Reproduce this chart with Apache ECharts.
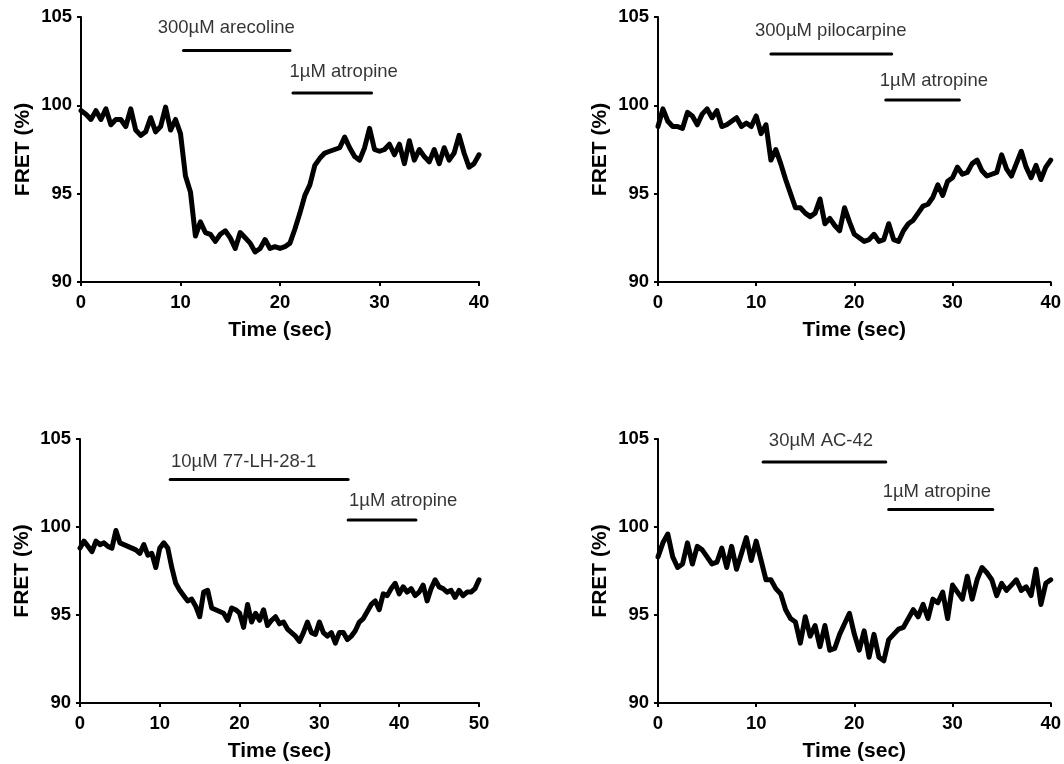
<!DOCTYPE html>
<html>
<head>
<meta charset="utf-8">
<title>FRET traces</title>
<script src="https://cdn.jsdelivr.net/npm/echarts@6/dist/echarts.min.js"></script>
<style>
	html, body { margin: 0; padding: 0; background: #fff; }
	#chart { width: 1064px; height: 764px; }
</style>
</head>
<body>
<div id="chart"></div>
<script>
	// sampling interval of the traces (sec)
	var sampleStep = 0.5

	// FRET (%) traces, one value every 0.5 s
	var fretArecoline = [
		99.7, 99.5, 99.2, 99.7, 99.2, 99.8, 98.9, 99.2, 99.2, 98.8,
		99.8, 98.6, 98.3, 98.5, 99.3, 98.5, 98.8, 99.9, 98.6, 99.2,
		98.4, 96.0, 95.1, 92.6, 93.4, 92.8, 92.7, 92.3, 92.7, 92.9,
		92.5, 91.9, 92.8, 92.5, 92.2, 91.7, 91.9, 92.4, 91.9, 92.0,
		91.9, 92.0, 92.2, 93.0, 93.9, 94.9, 95.5, 96.6, 97.0, 97.3,
		97.4, 97.5, 97.6, 98.2, 97.6, 97.1, 96.9, 97.6, 98.7, 97.5,
		97.4, 97.5, 97.8, 97.2, 97.8, 96.7, 98.0, 96.9, 97.5, 97.1,
		96.8, 97.5, 96.7, 97.6, 96.9, 97.3, 98.3, 97.3, 96.5, 96.7,
		97.2
	]
	var fretPilocarpine = [
		98.8, 99.8, 99.1, 98.8, 98.8, 98.7, 99.6, 99.4, 98.9, 99.5,
		99.8, 99.3, 99.7, 98.8, 98.9, 99.1, 99.3, 98.8, 99.0, 98.8,
		99.4, 98.4, 98.9, 96.9, 97.5, 96.7, 95.8, 95.0, 94.2, 94.2,
		93.9, 93.7, 93.9, 94.7, 93.3, 93.6, 93.2, 92.9, 94.2, 93.4,
		92.7, 92.5, 92.3, 92.4, 92.7, 92.3, 92.4, 93.3, 92.4, 92.3,
		92.9, 93.3, 93.5, 93.9, 94.3, 94.4, 94.8, 95.5, 94.9, 95.7,
		95.9, 96.5, 96.1, 96.2, 96.7, 96.9, 96.3, 96.0, 96.1, 96.2,
		97.2, 96.4, 96.0, 96.7, 97.4, 96.5, 95.9, 96.6, 95.8, 96.5,
		96.9
	]
	var fretLH = [
		98.8, 99.2, 98.9, 98.6, 99.2, 99.0, 99.1, 98.9, 98.8, 99.8,
		99.1, 99.0, 98.9, 98.8, 98.7, 98.5, 99.0, 98.4, 98.5, 97.7,
		98.8, 99.1, 98.8, 97.7, 96.8, 96.4, 96.1, 95.8, 95.9, 95.5,
		94.9, 96.3, 96.4, 95.4, 95.3, 95.2, 95.1, 94.7, 95.4, 95.3,
		95.1, 94.3, 95.6, 94.6, 95.1, 94.7, 95.3, 94.4, 94.7, 94.9,
		94.5, 94.6, 94.2, 94.0, 93.8, 93.5, 94.0, 94.6, 94.0, 93.9,
		94.6, 94.0, 93.8, 94.0, 93.4, 94.0, 94.0, 93.6, 93.8, 94.1,
		94.6, 94.8, 95.2, 95.6, 95.8, 95.3, 96.2, 96.1, 96.5, 96.8,
		96.2, 96.6, 96.3, 96.5, 96.1, 96.3, 96.7, 95.8, 96.5, 97.0,
		96.6, 96.5, 96.3, 96.4, 96.0, 96.4, 96.1, 96.3, 96.3, 96.5,
		97.0
	]
	var fretAC42 = [
		98.3, 99.1, 99.6, 98.3, 97.7, 97.9, 99.1, 97.9, 98.9, 98.7,
		98.3, 97.9, 98.0, 98.8, 97.7, 98.9, 97.6, 98.5, 99.4, 98.1,
		99.2, 98.1, 97.0, 97.0, 96.5, 96.2, 95.3, 94.8, 94.6, 93.4,
		94.9, 93.8, 94.4, 93.2, 94.4, 93.0, 93.1, 93.9, 94.5, 95.1,
		93.9, 93.0, 94.1, 92.6, 93.9, 92.6, 92.4, 93.6, 93.9, 94.2,
		94.3, 94.8, 95.3, 94.9, 95.6, 94.8, 95.9, 95.7, 96.3, 94.8,
		96.7, 96.3, 95.9, 97.2, 95.9, 97.0, 97.7, 97.4, 97.0, 96.1,
		96.8, 96.4, 96.7, 97.0, 96.4, 96.6, 96.1, 97.6, 95.6, 96.8,
		97.0
	]

	// drug application bars: [start sec, end sec, level]
	var barsArecoline = [[10.3, 21.0, 103.1], [21.3, 29.2, 100.7]]
	var barsPilocarpine = [[11.5, 23.8, 102.9], [23.2, 30.7, 100.3]]
	var barsLH = [[11.3, 33.6, 102.7], [33.6, 42.1, 100.4]]
	var barsAC42 = [[10.7, 23.2, 103.7], [23.5, 34.1, 101.0]]

	// bar labels: [x, y, text]
	var labelsArecoline = [[14.6, 104.4, '300µM arecoline'], [26.4, 101.9, '1µM atropine']]
	var labelsPilocarpine = [[17.6, 104.2, '300µM pilocarpine'], [28.1, 101.4, '1µM atropine']]
	var labelsLH = [[20.5, 103.7, '10µM 77-LH-28-1'], [40.5, 101.5, '1µM atropine']]
	var labelsAC42 = [[16.6, 104.9, '30µM AC-42'], [28.4, 102.0, '1µM atropine']]

	var xMaxes = [40, 40, 50, 40]
	var yTicks = [90, 95, 100, 105]

	var fontFam = '"Liberation Sans", Arial, Helvetica, sans-serif'

	var grids = [
		{left: 81, top: 17, width: 398, height: 265},
		{left: 658, top: 17, width: 396, height: 265},
		{left: 80, top: 439, width: 399, height: 264},
		{left: 658, top: 439, width: 396, height: 264}
	]

	var axisCommon = {
		axisLine: {show: true, onZero: false, lineStyle: {color: '#000', width: 2}},
		axisTick: {show: true, length: 4, lineStyle: {color: '#000', width: 2}},
		splitLine: {show: false},
		nameLocation: 'middle',
		nameTextStyle: {color: '#000', fontSize: 21, fontWeight: 'bold', fontFamily: fontFam}
	}

	var xAxes = [], yAxes = [], series = []
	var traces = [fretArecoline, fretPilocarpine, fretLH, fretAC42]
	var bars = [barsArecoline, barsPilocarpine, barsLH, barsAC42]
	var labels = [labelsArecoline, labelsPilocarpine, labelsLH, labelsAC42]

	for (var k = 0; k < 4; k++) {
		xAxes.push(Object.assign({}, axisCommon, {
			gridIndex: k, type: 'value', min: 0, max: xMaxes[k], interval: 10,
			name: 'Time (sec)', nameGap: 38,
			axisLabel: {color: '#000', fontSize: 18.5, fontWeight: 'bold', fontFamily: fontFam, margin: 11}
		}))
		yAxes.push(Object.assign({}, axisCommon, {
			gridIndex: k, type: 'value', min: yTicks[0], max: yTicks[yTicks.length - 1], interval: 5,
			name: 'FRET (%)', nameGap: 47,
			axisLabel: {color: '#000', fontSize: 18.5, fontWeight: 'bold', fontFamily: fontFam, margin: 9}
		}))

		// the trace itself
		series.push({
			type: 'line', xAxisIndex: k, yAxisIndex: k,
			data: traces[k].map(function (v, i) { return [i * sampleStep, v] }),
			showSymbol: false, symbol: 'none',
			lineStyle: {color: '#000', width: 5, join: 'round', cap: 'round'},
			silent: true
		})

		// drug bars
		bars[k].forEach(function (b) {
			series.push({
				type: 'line', xAxisIndex: k, yAxisIndex: k,
				data: [[b[0], b[2]], [b[1], b[2]]],
				symbol: 'none',
				lineStyle: {color: '#000', width: 3, cap: 'round'},
				silent: true
			})
		})

		// bar labels
		series.push({
			type: 'scatter', xAxisIndex: k, yAxisIndex: k,
			data: labels[k],
			symbolSize: 1,
			itemStyle: {color: 'rgba(0,0,0,0)'},
			label: {
				show: true, position: 'inside',
				formatter: function (p) { return p.value[2] },
				color: '#000', fontSize: 18.5, fontFamily: fontFam
			},
			silent: true
		})
	}

	var chart = echarts.init(document.getElementById('chart'))
	chart.setOption({
		animation: false,
		grid: grids,
		xAxis: xAxes,
		yAxis: yAxes,
		series: series
	})
</script>
</body>
</html>
